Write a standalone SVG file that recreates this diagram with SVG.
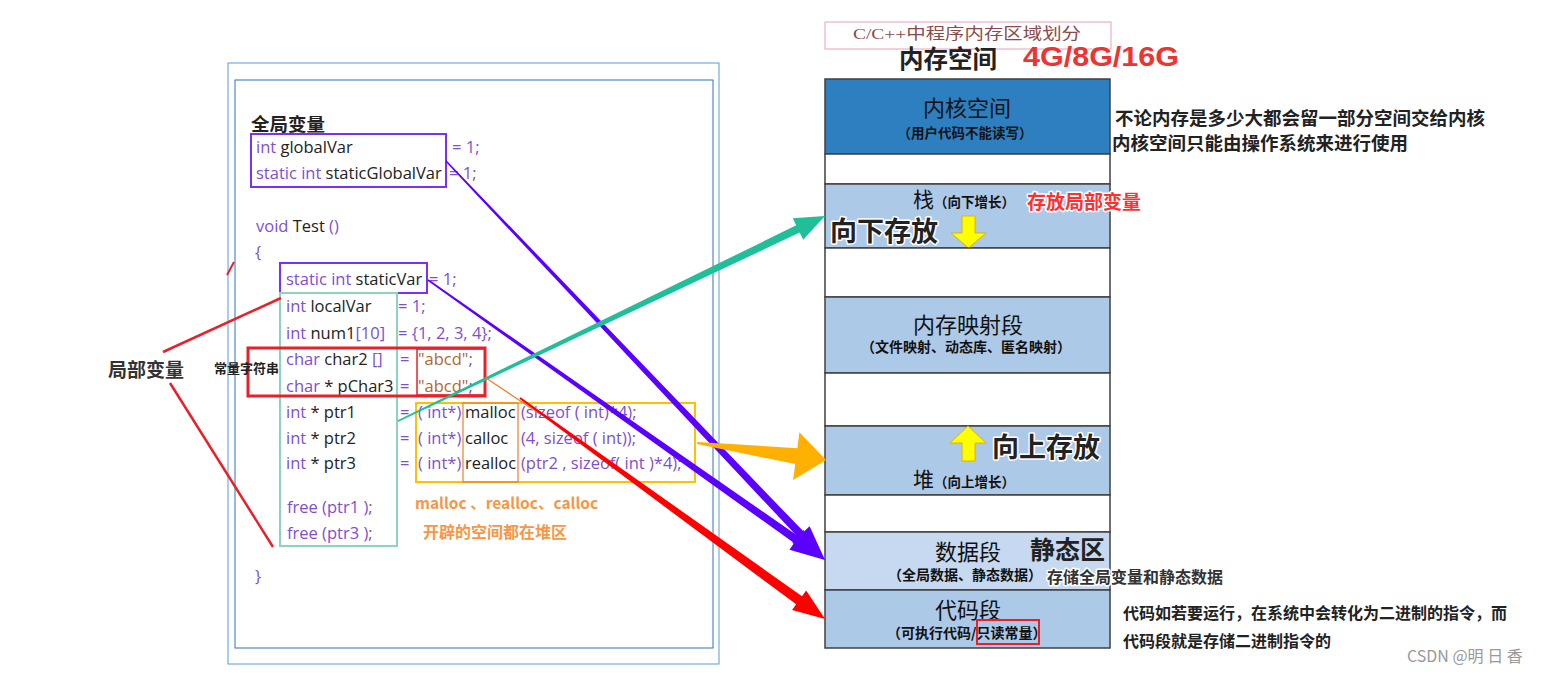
<svg xmlns="http://www.w3.org/2000/svg" width="1546" height="673" viewBox="0 0 1546 673">
<style>
.code{font-family:"Open Sans","Noto Sans CJK SC",sans-serif;font-size:16.5px}
.kw{fill:#7e4fd0}
.id{fill:#222}
.str{fill:#b3662e}
.cjk{font-family:"Noto Sans CJK SC",sans-serif}
.b{font-weight:bold}
.seg{stroke:#404040;stroke-width:1.5}
.lbl{font-family:"Noto Sans CJK SC",sans-serif;fill:#111;text-anchor:middle}
.halo{paint-order:stroke;stroke:#fff;stroke-width:3px;stroke-linejoin:round}
</style>
<rect width="1546" height="673" fill="#fff"/>

<g id="code-panel">
<rect x="228" y="63" width="491" height="601" fill="none" stroke="#5b9bd5" stroke-width="1"/>
<rect x="235" y="80" width="478" height="568" fill="none" stroke="#2e75b6" stroke-width="1"/>
<text x="251" y="131" class="cjk b" font-size="18.5" fill="#222">全局变量</text>
<text x="256" y="153" class="code"><tspan class="kw">int</tspan><tspan class="id"> globalVar</tspan></text>
<text x="452" y="153" class="code kw">= 1;</text>
<text x="256" y="179" class="code"><tspan class="kw">static int</tspan><tspan class="id"> staticGlobalVar</tspan></text>
<text x="449" y="179" class="code kw">= 1;</text>
<text x="256" y="232" class="code"><tspan class="kw">void</tspan><tspan class="id"> Test</tspan><tspan class="kw"> ()</tspan></text>
<text x="255" y="258" class="code kw">{</text>
<text x="286" y="285" class="code"><tspan class="kw">static int</tspan><tspan class="id"> staticVar</tspan></text>
<text x="429" y="285" class="code kw">= 1;</text>
<text x="286" y="312" class="code"><tspan class="kw">int</tspan><tspan class="id"> localVar</tspan></text>
<text x="398" y="312" class="code kw">= 1;</text>
<text x="286" y="339" class="code"><tspan class="kw">int</tspan><tspan class="id"> num1</tspan><tspan class="kw">[10]</tspan></text>
<text x="398" y="339" class="code kw">= {1, 2, 3, 4};</text>
<text x="286" y="365" class="code"><tspan class="kw">char</tspan><tspan class="id"> char2 </tspan><tspan class="kw">[]</tspan></text>
<text x="400" y="365" class="code kw">=</text>
<text x="418" y="365" class="code"><tspan class="str">"abcd"</tspan><tspan class="kw">;</tspan></text>
<text x="286" y="392" class="code"><tspan class="kw">char</tspan><tspan class="id"> * pChar3</tspan></text>
<text x="400" y="392" class="code kw">=</text>
<text x="418" y="392" class="code"><tspan class="str">"abcd"</tspan><tspan class="kw">;</tspan></text>
<text x="286" y="418" class="code"><tspan class="kw">int</tspan><tspan class="id"> * ptr1</tspan></text>
<text x="400" y="418" class="code kw">=</text>
<text x="418" y="418" class="code kw">( int*)</text>
<text x="465" y="418" class="code id">malloc</text>
<text x="521" y="418" class="code kw">(sizeof ( int)*4);</text>
<text x="286" y="444" class="code"><tspan class="kw">int</tspan><tspan class="id"> * ptr2</tspan></text>
<text x="400" y="444" class="code kw">=</text>
<text x="418" y="444" class="code kw">( int*)</text>
<text x="465" y="444" class="code id">calloc</text>
<text x="521" y="444" class="code kw">(4, sizeof ( int));</text>
<text x="286" y="469" class="code"><tspan class="kw">int</tspan><tspan class="id"> * ptr3</tspan></text>
<text x="400" y="469" class="code kw">=</text>
<text x="418" y="469" class="code kw">( int*)</text>
<text x="465" y="469" class="code id" textLength="51" lengthAdjust="spacingAndGlyphs">realloc</text>
<text x="521" y="469" class="code kw">(ptr2 , sizeof( int )*4);</text>
<text x="287" y="513" class="code kw">free (ptr1 );</text>
<text x="287" y="539" class="code kw">free (ptr3 );</text>
<text x="255" y="582" class="code kw">}</text>
<text x="415" y="509" class="cjk b" font-size="15.5" fill="#f79646">malloc 、realloc、calloc</text>
<text x="423" y="538" class="cjk b" font-size="16" fill="#f79646">开辟的空间都在堆区</text>
</g>

<g id="global-box"><rect x="251" y="134" width="195" height="53" fill="none" stroke="#7b2ff7" stroke-width="2"/></g>
<g id="static-box"><rect x="280" y="263" width="147" height="30" fill="none" stroke="#7b2ff7" stroke-width="2"/></g>
<g id="local-box"><rect x="280" y="293" width="117" height="253" fill="none" stroke="#8fd3bd" stroke-width="2"/></g>
<g id="const-box">
<rect x="248" y="348" width="237" height="48" fill="none" stroke="#e8202a" stroke-width="3"/>
<rect x="417" y="349" width="68" height="46" fill="none" stroke="#e8202a" stroke-width="1.5"/>
</g>
<g id="heap-box">
<rect x="416" y="403" width="279" height="79" fill="none" stroke="#ffc000" stroke-width="2"/>
<rect x="463" y="403" width="55" height="79" fill="none" stroke="#ed7d31" stroke-width="1.2"/>
</g>

<g id="local-label">
<text x="108" y="377" class="cjk b" font-size="19" fill="#333">局部变量</text>
<text x="214" y="373" class="cjk b" font-size="13" fill="#222">常量字符串</text>
</g>

<g id="memory-title">
<rect x="825" y="22" width="286" height="27" fill="#fff" stroke="#e8a0b8" stroke-width="1"/>
<text x="967" y="39" text-anchor="middle" font-family="Liberation Serif,Noto Sans CJK SC,serif" font-size="15.5" fill="#8b4a4a" textLength="228" lengthAdjust="spacingAndGlyphs">C/C++中程序内存区域划分</text>
<text x="899" y="68" class="cjk b" font-size="24.5" fill="#222">内存空间</text>
<text x="1023" y="66" font-family="Liberation Sans,sans-serif" font-weight="bold" font-size="27" fill="#ee3333" textLength="156" lengthAdjust="spacingAndGlyphs">4G/8G/16G</text>
</g>

<g id="kernel">
<rect x="825" y="79" width="285" height="75" fill="#2e7fc0" class="seg"/>
<text x="967" y="116" class="lbl" font-size="22">内核空间</text>
<text x="965" y="138" class="lbl b" font-size="13.5">（用户代码不能读写）</text>
</g>
<g id="gap1"><rect x="825" y="154" width="285" height="30" fill="#fff" class="seg"/></g>
<g id="stack">
<rect x="825" y="184" width="285" height="64" fill="#adc9e8" class="seg"/>
<text x="913" y="207" class="cjk" font-size="21" fill="#111">栈<tspan font-size="13.5" font-weight="bold">（向下增长）</tspan></text>
<text x="830" y="241" class="cjk b halo" font-size="27" fill="#222">向下存放</text>
<polygon points="962,216 975,216 975,233 986,233 968.5,248 951,233 962,233" fill="#ffff00" stroke="#e0b000" stroke-width="1"/>
<text x="1027" y="209" class="cjk b halo" font-size="19" fill="#ff3030">存放局部变量</text>
</g>
<g id="gap2"><rect x="825" y="248" width="285" height="49" fill="#fff" class="seg"/></g>
<g id="mmap">
<rect x="825" y="297" width="285" height="76" fill="#adc9e8" class="seg"/>
<text x="968" y="333" class="lbl" font-size="22">内存映射段</text>
<text x="966" y="352" class="lbl b" font-size="14">（文件映射、动态库、匿名映射）</text>
</g>
<g id="gap3"><rect x="825" y="373" width="285" height="53" fill="#fff" class="seg"/></g>
<g id="heap">
<rect x="825" y="426" width="285" height="69" fill="#adc9e8" class="seg"/>
<polygon points="968,426 986,443 975,443 975,461 962,461 962,443 950,443" fill="#ffff00" stroke="#e0b000" stroke-width="1"/>
<text x="992" y="457" class="cjk b halo" font-size="27" fill="#222">向上存放</text>
<text x="913" y="487" class="cjk" font-size="21" fill="#111">堆<tspan font-size="13.5" font-weight="bold">（向上增长）</tspan></text>
</g>
<g id="gap4"><rect x="825" y="495" width="285" height="37" fill="#fff" class="seg"/></g>
<g id="data">
<rect x="825" y="532" width="285" height="58" fill="#c6d9f0" class="seg"/>
<text x="968" y="560" class="lbl" font-size="22">数据段</text>
<text x="1030" y="559" class="cjk b" font-size="25" fill="#222">静态区</text>
<text x="888" y="580" class="cjk b" font-size="14" fill="#111">（全局数据、静态数据）</text>
<text x="1047" y="583" class="cjk b halo" font-size="16" fill="#333">存储全局变量和静态数据</text>
</g>
<g id="code-seg">
<rect x="825" y="590" width="285" height="58" fill="#adc9e8" class="seg"/>
<text x="968" y="618" class="lbl" font-size="22">代码段</text>
<text x="887" y="638" class="cjk b" font-size="14" fill="#111">（可执行代码/只读常量）</text>
<rect x="977" y="620" width="62" height="24" fill="none" stroke="#e8202a" stroke-width="2"/>
</g>

<g id="notes">
<text x="1115" y="125" class="cjk b" font-size="18.5" fill="#222">不论内存是多少大都会留一部分空间交给内核</text>
<text x="1112" y="150" class="cjk b" font-size="18.5" fill="#222">内核空间只能由操作系统来进行使用</text>
<text x="1123" y="619" class="cjk b" font-size="16" fill="#222">代码如若要运行，在系统中会转化为二进制的指令，而</text>
<text x="1123" y="647" class="cjk b" font-size="16" fill="#222">代码段就是存储二进制指令的</text>
<text x="1407" y="662" class="cjk" font-size="16" fill="#999">CSDN @明 日 香</text>
</g>

<g id="connectors">
<line x1="163" y1="352" x2="281" y2="298" stroke="#e8202a" stroke-width="2.5"/>
<line x1="170" y1="383" x2="273" y2="547" stroke="#e8202a" stroke-width="2.5"/>
<line x1="227" y1="275" x2="234" y2="262" stroke="#e8202a" stroke-width="2"/>
<polygon points="445.42,161.55 798.00,537.37 792.20,542.88 825,560 809.60,526.36 803.80,531.87 446.58,160.45" fill="#5b00ff"/>
<polygon points="427.54,280.65 794.09,543.10 789.48,549.64 825,560 803.32,530.02 798.71,536.56 428.46,279.35" fill="#5b00ff"/>
<polygon points="398.35,421.72 799.69,232.59 803.15,239.80 825,216 792.77,218.16 796.23,225.37 397.65,420.28" fill="#1fbf9a"/>
<polygon points="696.87,443.99 795.20,464.01 793.11,479.88 826,460 799.39,432.28 797.30,448.15 697.13,442.01" fill="#ffb000"/>
<line x1="486" y1="378" x2="540" y2="414" stroke="#ed7d31" stroke-width="1.2"/>
<polygon points="519.41,398.81 796.16,604.28 792.05,609.95 825,619 806.13,590.51 802.02,596.18 520.59,397.19" fill="#ff0000"/>
</g>
</svg>
